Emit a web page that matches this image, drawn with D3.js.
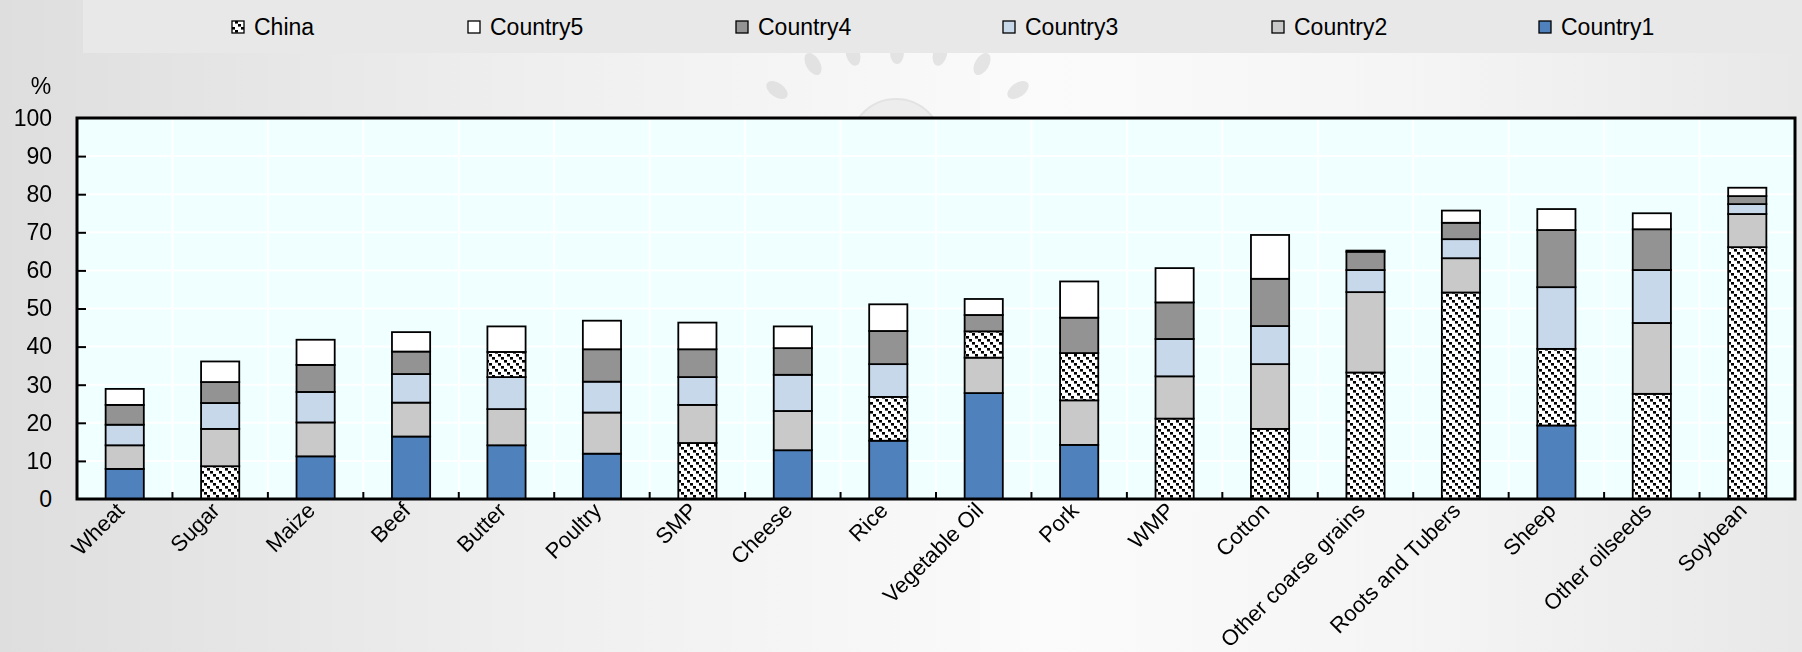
<!DOCTYPE html>
<html>
<head>
<meta charset="utf-8">
<script src="https://cdnjs.cloudflare.com/ajax/libs/d3/7.8.5/d3.min.js"></script>
<style>
  html, body { margin: 0; padding: 0; width: 1802px; height: 652px; overflow: hidden; }
  body { background: linear-gradient(to right, #dedede 0%, #efefef 30%, #fbfbfb 58%, #f4f4f4 80%, #e8e8e8 100%); }
  text { font-family: "Liberation Sans", Arial, sans-serif; fill: #000; }
</style>
</head>
<body>
<svg id="chart" width="1802" height="652"></svg>
<script>
// ---- data ----
const categories = ["Wheat","Sugar","Maize","Beef","Butter","Poultry","SMP","Cheese","Rice","Vegetable Oil","Pork","WMP","Cotton","Other coarse grains","Roots and Tubers","Sheep","Other oilseeds","Soybean"];
// shares of the five largest exporters, bottom (largest) to top
const rank1 = [7.9, 8.6, 11.2, 16.4, 14.1, 11.9, 14.7, 12.8, 15.3, 27.8, 14.2, 21.1, 18.4, 33.2, 54.2, 19.3, 27.6, 66.1];
const rank2 = [6.2, 9.8, 8.9, 8.9, 9.5, 10.8, 10.0, 10.3, 11.5, 9.3, 11.7, 11.1, 17.0, 21.1, 9.0, 20.1, 18.6, 8.7];
const rank3 = [5.4, 6.8, 8.0, 7.5, 8.4, 8.1, 7.3, 9.5, 8.6, 6.9, 12.4, 9.8, 10.0, 5.8, 5.0, 16.2, 13.9, 2.6];
const rank4 = [5.2, 5.5, 7.1, 5.9, 6.6, 8.5, 7.3, 7.0, 8.7, 4.3, 9.3, 9.6, 12.4, 4.8, 4.3, 15.0, 10.7, 2.1];
const rank5 = [4.2, 5.4, 6.6, 5.1, 6.7, 7.5, 7.0, 5.7, 7.0, 4.2, 9.5, 9.0, 11.5, 0.3, 3.2, 5.5, 4.2, 2.2];
// position of China among the five (0 = not among them)
const chinaRank = [0, 1, 0, 0, 4, 0, 1, 0, 2, 3, 3, 1, 1, 1, 1, 2, 1, 1];
const seriesNames = ["Country1","Country2","Country3","Country4","Country5"];
const legendNames = ["China","Country5","Country4","Country3","Country2","Country1"];
const yTicks = [0,10,20,30,40,50,60,70,80,90,100];

// ---- setup ----
const svg = d3.select("#chart");
const W = 1802, H = 652;
const margin = {left: 77, right: W - 1795, top: 118, bottom: H - 499};
const x0 = margin.left, x1 = W - margin.right, y0 = H - margin.bottom, y1 = margin.top;

const colors = {Country1: "#4f81bd", Country2: "#c9c9c9", Country3: "#c8d8eb", Country4: "#939393", Country5: "#ffffff"};
const legendX = [232, 468, 736, 1003, 1272, 1539];

const defs = svg.append("defs");
const pat = defs.append("pattern").attr("id", "hatch").attr("patternUnits", "userSpaceOnUse")
  .attr("width", 9).attr("height", 9);
pat.append("rect").attr("width", 9).attr("height", 9).attr("fill", "#fff");
[0, 3, 6].forEach(p => {
  pat.append("rect").attr("x", p).attr("y", p).attr("width", 3).attr("height", 2.6).attr("fill", "#000");
});

// watermark (faint emblem)
const wm = svg.append("g").attr("opacity", 0.5);
wm.append("circle").attr("cx", 896).attr("cy", 145).attr("r", 46).attr("fill", "#e2e2e2").attr("stroke", "#cfcfcf").attr("stroke-width", 2);
const leaves = [[777, 90, -55], [813, 64, -30], [853, 54, -15], [897, 52, 0], [940, 54, 15], [982, 64, 30], [1018, 90, 55]];
leaves.forEach(([cx, cy, a]) => {
  wm.append("ellipse").attr("cx", cx).attr("cy", cy).attr("rx", 7).attr("ry", 12)
    .attr("fill", "#cfcfcf").attr("transform", `rotate(${a},${cx},${cy})`);
});

// legend box
svg.append("rect").attr("x", 83).attr("y", 0).attr("width", 1796 - 83).attr("height", 53).attr("fill", "#e8e8e8");
const lg = svg.append("g");
legendNames.forEach((name, i) => {
  const g = lg.append("g").attr("transform", `translate(${legendX[i]},27)`);
  g.append("rect").attr("x", 0).attr("y", -6).attr("width", 12).attr("height", 12)
    .attr("fill", name === "China" ? "url(#hatch)" : colors[name]).attr("stroke", "#000").attr("stroke-width", 1.3);
  g.append("text").attr("x", 22).attr("y", 0).attr("dy", "0.36em").style("font-size", "23px").text(name);
});

// scales
const x = d3.scaleBand().domain(categories).range([x0, x1]).paddingInner(0.6).paddingOuter(0.3);
const xb = d3.scaleBand().domain(categories).range([x0, x1]);
const y = d3.scaleLinear().domain([0, 100]).range([y0, y1]);

// plot background
svg.append("rect").attr("x", x0).attr("y", y1).attr("width", x1 - x0).attr("height", y0 - y1).attr("fill", "#f0ffff");

// gridlines
svg.append("g").selectAll("line").data(yTicks.slice(1, -1)).join("line")
  .attr("x1", x0).attr("x2", x1).attr("y1", d => y(d)).attr("y2", d => y(d))
  .attr("stroke", "#ffffff").attr("stroke-width", 2);
svg.append("g").selectAll("line").data(categories.slice(1)).join("line")
  .attr("x1", d => xb(d)).attr("x2", d => xb(d)).attr("y1", y1).attr("y2", y0)
  .attr("stroke", "#ffffff").attr("stroke-width", 2);

// stacked data
const table = categories.map((c, i) => ({cat: c, Country1: rank1[i], Country2: rank2[i], Country3: rank3[i], Country4: rank4[i], Country5: rank5[i], china: chinaRank[i]}));
const stacked = d3.stack().keys(seriesNames)(table);

const bars = svg.append("g");
stacked.forEach((layer, k) => {
  bars.append("g").selectAll("rect").data(layer).join("rect")
    .attr("x", d => x(d.data.cat))
    .attr("width", x.bandwidth())
    .attr("y", d => y(d[1]))
    .attr("height", d => y(d[0]) - y(d[1]))
    .attr("fill", d => d.data.china === k + 1 ? "url(#hatch)" : colors[layer.key])
    .attr("stroke", "#000").attr("stroke-width", 1.8);
});

// axes
const yAxis = d3.axisLeft(y).tickValues(yTicks).tickSize(-9).tickPadding(25);
const gy = svg.append("g").attr("transform", `translate(${x0},0)`).call(yAxis);
gy.select(".domain").remove();
gy.selectAll(".tick line").attr("stroke", "#000").attr("stroke-width", 2);
gy.selectAll(".tick text").style("font-size", "23px").style("font-family", "Liberation Sans, Arial, sans-serif").attr("fill", "#000");
gy.selectAll(".tick").filter(d => d === 0 || d === 100).select("line").remove();

// bottom ticks at category boundaries (inward)
svg.append("g").selectAll("line").data(categories.slice(1)).join("line")
  .attr("x1", d => xb(d)).attr("x2", d => xb(d)).attr("y1", y0).attr("y2", y0 - 7)
  .attr("stroke", "#000").attr("stroke-width", 2);

// frame
svg.append("rect").attr("x", x0).attr("y", y1).attr("width", x1 - x0).attr("height", y0 - y1)
  .attr("fill", "none").attr("stroke", "#000").attr("stroke-width", 3);

// x labels
svg.append("g").selectAll("text").data(categories).join("text")
  .attr("transform", d => `translate(${x(d) + x.bandwidth() / 2 - 10},${y0 + 2}) rotate(-45)`)
  .attr("text-anchor", "end").attr("dy", "0.7em")
  .style("font-size", "22px")
  .text(d => d);

// % label
svg.append("text").attr("x", 41).attr("y", 94).attr("text-anchor", "middle").style("font-size", "23px").text("%");
</script>
</body>
</html>
